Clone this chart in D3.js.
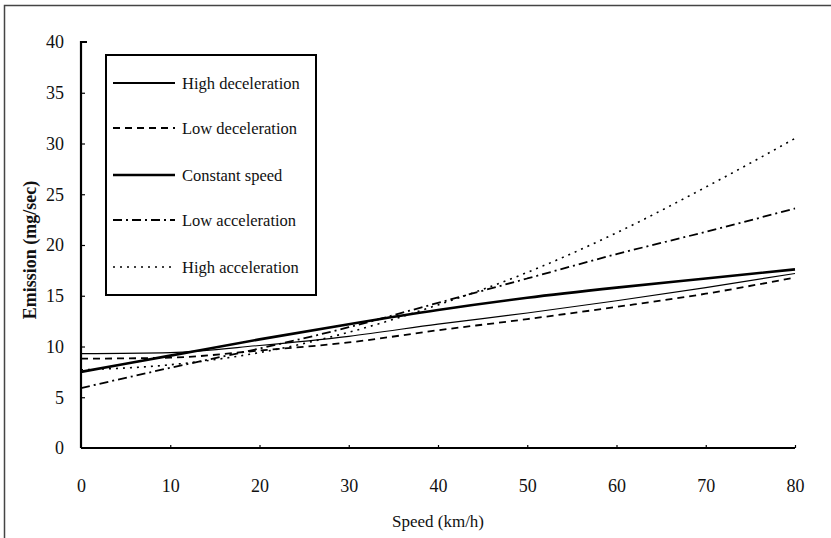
<!DOCTYPE html>
<html><head><meta charset="utf-8">
<script src="https://cdn.jsdelivr.net/npm/d3@7"></script>
<style>body{margin:0;background:#fff}svg{display:block}svg text{font-family:'Liberation Serif','Times New Roman','DejaVu Serif',serif !important;fill:#111}</style>
</head><body>
<svg id="c" width="831" height="538"></svg>
<script>
const speeds = [0,10,20,30,40,50,60,70,80];
const highDecel  = [9.3, 9.4, 10.1, 11.0, 12.2, 13.3, 14.5, 15.8, 17.2];
const lowDecel   = [8.8, 8.9, 9.6, 10.4, 11.6, 12.7, 13.9, 15.2, 16.8];
const constant   = [7.5, 9.1, 10.7, 12.2, 13.6, 14.8, 15.8, 16.7, 17.6];
const lowAccel   = [5.9, 7.9, 9.8, 11.9, 14.3, 16.7, 19.1, 21.3, 23.6];
const highAccel  = [7.7, 8.2, 9.4, 11.4, 14.1, 17.3, 21.2, 25.7, 30.5];
const seriesNames = ["High deceleration","Low deceleration","Constant speed","Low acceleration","High acceleration"];
const xTicks = [0,10,20,30,40,50,60,70,80];
const yTicks = [0,5,10,15,20,25,30,35,40];

const styles = [
  {w:1.1, dash:null},
  {w:1.8, dash:"7,5"},
  {w:2.6, dash:null},
  {w:1.8, dash:"9,4,2,4"},
  {w:1.6, dash:"2,5"}
];
const seriesVals = [highDecel, lowDecel, constant, lowAccel, highAccel];
const FONT = "'Liberation Serif','Times New Roman','DejaVu Serif',serif";

const svg = d3.select("#c");
const x = d3.scaleLinear().domain([0,80]).range([81,795]);
const y = d3.scaleLinear().domain([0,40]).range([448,42]);

// frame
svg.append("path").attr("d","M4.5,538 V5.5 H831").attr("fill","none").attr("stroke","#444").attr("stroke-width",1.5);

// axes
const gx = svg.append("g").attr("transform","translate(0,448)")
  .call(d3.axisBottom(x).tickValues(xTicks).tickSize(-3).tickPadding(31).tickFormat(d3.format("d")));
const gy = svg.append("g").attr("transform","translate(81,0)")
  .call(d3.axisLeft(y).tickValues(yTicks).tickSize(-4).tickPadding(17).tickFormat(d3.format("d")));
[gx,gy].forEach(g=>{
  g.attr("font-family",FONT);
  g.select(".domain").attr("stroke","#000").attr("stroke-width",2.2);
  g.selectAll(".tick line").attr("stroke","#000").attr("stroke-width",1.2);
  g.selectAll(".tick text").attr("font-size",18).style("font-family",FONT).attr("fill","#111");
});
gx.select(".domain").attr("d","M81,0H795");
gy.select(".domain").attr("d","M6,42H0V448");
gy.selectAll(".tick").filter(d=>d===0||d===40).select("line").remove();
gx.selectAll(".tick").filter(d=>d===0).select("line").remove();

// lines
const line = d3.line().x((d,i)=>x(speeds[i])).y(d=>y(d)).curve(d3.curveMonotoneX);
seriesVals.forEach((vals,k)=>{
  svg.append("path").datum(vals).attr("d",line).attr("fill","none")
    .attr("stroke","#000").attr("stroke-width",styles[k].w)
    .attr("stroke-dasharray",styles[k].dash);
});

// legend
svg.append("rect").attr("x",106).attr("y",55).attr("width",210).attr("height",240)
  .attr("fill","#fff").attr("stroke","#000").attr("stroke-width",2);
const rowsY = [83,128,175,220,267];
seriesNames.forEach((n,k)=>{
  svg.append("line").attr("x1",113).attr("x2",175).attr("y1",rowsY[k]).attr("y2",rowsY[k])
    .attr("stroke","#000").attr("stroke-width",styles[k].w===1.1?1.8:styles[k].w)
    .attr("stroke-dasharray",styles[k].dash);
  svg.append("text").attr("x",182).attr("y",rowsY[k]).attr("dy","0.35em")
    .style("font-family",FONT).attr("font-size",16.5).text(n);
});

// axis titles
svg.append("text").attr("transform","translate(36,250) rotate(-90)").attr("text-anchor","middle")
  .style("font-family",FONT).attr("font-size",18).attr("font-weight","bold").text("Emission (mg/sec)");
svg.append("text").attr("x",438).attr("y",527).attr("text-anchor","middle")
  .style("font-family",FONT).attr("font-size",17).text("Speed (km/h)");
</script>
</body></html>
